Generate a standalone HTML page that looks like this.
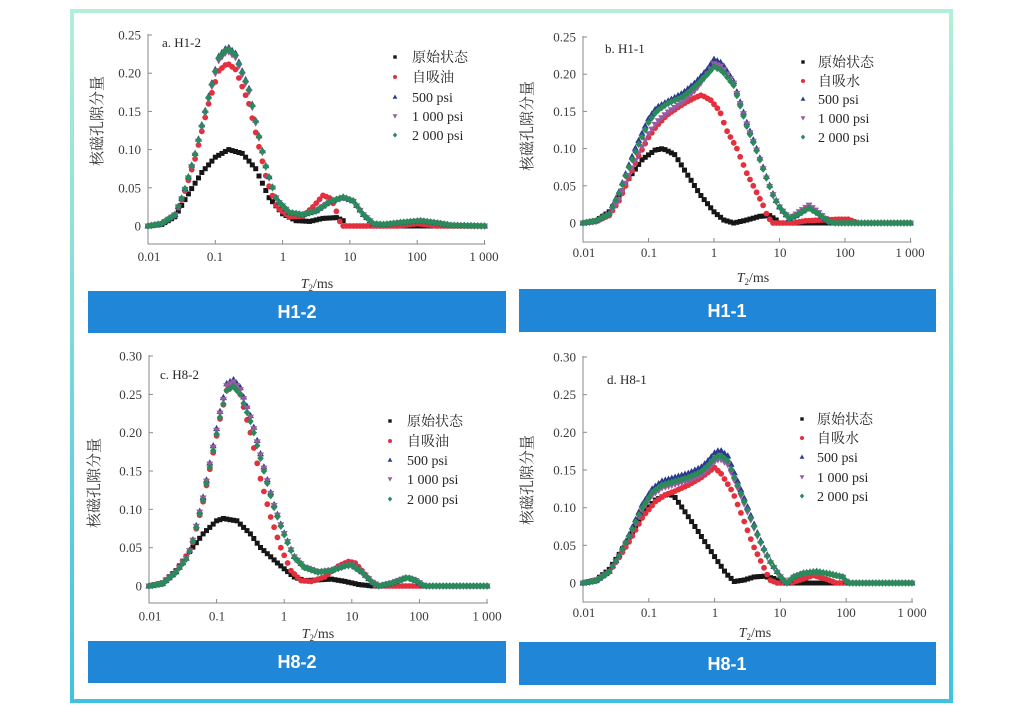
<!DOCTYPE html>
<html><head><meta charset="utf-8"><style>
html,body{margin:0;padding:0;background:#fff;}
svg{display:block;}
.tk{font-family:"Liberation Serif","Noto Serif CJK SC",serif;font-size:13px;fill:#3a3a3a;}
.yl{text-anchor:end;}
.xl{text-anchor:middle;}
.lg{font-family:"Liberation Serif","Noto Serif CJK SC",serif;font-size:14px;fill:#262626;}
.yt{font-family:"Liberation Serif","Noto Serif CJK SC",serif;font-size:15px;fill:#333;text-anchor:middle;dominant-baseline:central;}
.ti{font-family:"Liberation Serif",serif;font-size:13px;fill:#262626;}
.bar{font-family:"Liberation Sans",sans-serif;font-size:18px;font-weight:bold;fill:#fff;text-anchor:middle;}
.ax{font-family:"Liberation Serif",serif;font-size:14px;fill:#333;text-anchor:middle;}
</style></head><body>
<svg id="s" width="1024" height="713" viewBox="0 0 1024 713" xmlns="http://www.w3.org/2000/svg">
<defs><linearGradient id="fg" x1="0" y1="0" x2="0" y2="1"><stop offset="0" stop-color="#b2efd6"/><stop offset="1" stop-color="#3fc3e0"/></linearGradient></defs>
<rect width="1024" height="713" fill="#fff"/>
<rect x="72" y="11" width="879" height="690" fill="none" stroke="url(#fg)" stroke-width="4"/>
<g id="axes" stroke="#8a8a8a" stroke-width="1" fill="none"></g>

<!-- Panel a -->
<g class="tk yl">
<text x="141" y="230.5">0</text><text x="141" y="192.3">0.05</text><text x="141" y="154.1">0.10</text><text x="141" y="115.9">0.15</text><text x="141" y="77.7">0.20</text><text x="141" y="39.5">0.25</text>
</g>
<g class="tk xl">
<text x="149" y="261">0.01</text><text x="215" y="261">0.1</text><text x="283" y="261">1</text><text x="350" y="261">10</text><text x="417" y="261">100</text><text x="484" y="261">1 000</text>
</g>
<text class="ax" x="317" y="288"><tspan font-style="italic">T</tspan><tspan font-size="9" dy="3">2</tspan><tspan dy="-3">/ms</tspan></text>
<text class="yt" transform="translate(98,121) rotate(-90)">核磁孔隙分量</text>
<text class="ti" x="162" y="47">a. H1-2</text>
<g class="lg">
<text x="412" y="62">原始状态</text><text x="412" y="82">自吸油</text><text x="412" y="102">500 psi</text><text x="412" y="121">1 000 psi</text><text x="412" y="140">2 000 psi</text>
</g>

<!-- Panel b -->
<g class="tk yl">
<text x="576" y="227.5">0</text><text x="576" y="190.3">0.05</text><text x="576" y="153.1">0.10</text><text x="576" y="115.9">0.15</text><text x="576" y="78.7">0.20</text><text x="576" y="41.5">0.25</text>
</g>
<g class="tk xl">
<text x="584" y="257">0.01</text><text x="649" y="257">0.1</text><text x="714" y="257">1</text><text x="780" y="257">10</text><text x="845" y="257">100</text><text x="910" y="257">1 000</text>
</g>
<text class="ax" x="753" y="282"><tspan font-style="italic">T</tspan><tspan font-size="9" dy="3">2</tspan><tspan dy="-3">/ms</tspan></text>
<text class="yt" transform="translate(528,126) rotate(-90)">核磁孔隙分量</text>
<text class="ti" x="605" y="53">b. H1-1</text>
<g class="lg">
<text x="818" y="67">原始状态</text><text x="818" y="86">自吸水</text><text x="818" y="104">500 psi</text><text x="818" y="123">1 000 psi</text><text x="818" y="142">2 000 psi</text>
</g>

<!-- Panel c -->
<g class="tk yl">
<text x="142" y="590.5">0</text><text x="142" y="552.2">0.05</text><text x="142" y="513.8">0.10</text><text x="142" y="475.5">0.15</text><text x="142" y="437.2">0.20</text><text x="142" y="398.8">0.25</text><text x="142" y="360.5">0.30</text>
</g>
<g class="tk xl">
<text x="150" y="620.5">0.01</text><text x="217" y="620.5">0.1</text><text x="284" y="620.5">1</text><text x="352" y="620.5">10</text><text x="419" y="620.5">100</text><text x="487" y="620.5">1 000</text>
</g>
<text class="ax" x="318" y="638"><tspan font-style="italic">T</tspan><tspan font-size="9" dy="3">2</tspan><tspan dy="-3">/ms</tspan></text>
<text class="yt" transform="translate(95,483) rotate(-90)">核磁孔隙分量</text>
<text class="ti" x="160" y="379">c. H8-2</text>
<g class="lg">
<text x="407" y="426">原始状态</text><text x="407" y="446">自吸油</text><text x="407" y="465">500 psi</text><text x="407" y="484">1 000 psi</text><text x="407" y="504">2 000 psi</text>
</g>

<!-- Panel d -->
<g class="tk yl">
<text x="576" y="587.5">0</text><text x="576" y="549.8">0.05</text><text x="576" y="512.2">0.10</text><text x="576" y="474.5">0.15</text><text x="576" y="436.8">0.20</text><text x="576" y="399.2">0.25</text><text x="576" y="361.5">0.30</text>
</g>
<g class="tk xl">
<text x="584" y="617">0.01</text><text x="649" y="617">0.1</text><text x="715" y="617">1</text><text x="780" y="617">10</text><text x="846" y="617">100</text><text x="912" y="617">1 000</text>
</g>
<text class="ax" x="755" y="637"><tspan font-style="italic">T</tspan><tspan font-size="9" dy="3">2</tspan><tspan dy="-3">/ms</tspan></text>
<text class="yt" transform="translate(528,480) rotate(-90)">核磁孔隙分量</text>
<text class="ti" x="607" y="384">d. H8-1</text>
<g class="lg">
<text x="817" y="424">原始状态</text><text x="817" y="443">自吸水</text><text x="817" y="462">500 psi</text><text x="817" y="482">1 000 psi</text><text x="817" y="501">2 000 psi</text>
</g>

<g id="data"></g>

<!-- Blue bars -->
<rect x="88" y="291" width="418" height="42" fill="#1f86d8"/>
<text class="bar" x="297" y="318">H1-2</text>
<rect x="519" y="289" width="417" height="43" fill="#1f86d8"/>
<text class="bar" x="727" y="317">H1-1</text>
<rect x="88" y="641" width="418" height="42" fill="#1f86d8"/>
<text class="bar" x="297" y="668">H8-2</text>
<rect x="519" y="642" width="417" height="43" fill="#1f86d8"/>
<text class="bar" x="727" y="670">H8-1</text>
</svg>
<script>
(function(){
var C={K:'#161616',R:'#e4303c',B:'#2b3a8e',P:'#9b5ba3',G:'#2a8a5a'};
function f(n){return Math.round(n*10)/10;}
function mk(t,x,y,s){
  s=s||1;var c=C[t];
  if(t==='K'){var h=2*s;return '<rect x="'+f(x-h)+'" y="'+f(y-h)+'" width="'+f(2*h)+'" height="'+f(2*h)+'" fill="'+c+'"/>';}
  if(t==='R'){return '<circle cx="'+f(x)+'" cy="'+f(y)+'" r="'+f(2.3*s)+'" fill="'+c+'"/>';}
  if(t==='B'){return '<path d="M'+f(x)+','+f(y-3*s)+'L'+f(x+2.8*s)+','+f(y+2*s)+'L'+f(x-2.8*s)+','+f(y+2*s)+'Z" fill="'+c+'"/>';}
  if(t==='P'){return '<path d="M'+f(x)+','+f(y+3*s)+'L'+f(x+2.8*s)+','+f(y-2*s)+'L'+f(x-2.8*s)+','+f(y-2*s)+'Z" fill="'+c+'"/>';}
  return '<path d="M'+f(x)+','+f(y-3*s)+'L'+f(x+2.6*s)+','+f(y)+'L'+f(x)+','+f(y+3*s)+'L'+f(x-2.6*s)+','+f(y)+'Z" fill="'+c+'"/>';
}
function interp(p,u){for(var i=1;i<p.length;i++){if(u<=p[i][0]+1e-9){var a=p[i-1],b=p[i];return a[1]+(b[1]-a[1])*(u-a[0])/(b[0]-a[0]);}}return p[p.length-1][1];}

var aK=[[-2,0],[-1.8,0.002],[-1.6,0.012],[-1.4,0.042],[-1.2,0.07],[-1.0,0.09],[-0.8,0.10],[-0.6,0.095],[-0.4,0.075],[-0.2,0.037],[0,0.016],[0.2,0.007],[0.4,0.006],[0.6,0.01],[0.8,0.011],[0.9,0.007],[0.95,0],[3,0]];
var aR=[[-2,0],[-1.8,0.003],[-1.6,0.014],[-1.47,0.04],[-1.3,0.088],[-1.1,0.16],[-0.95,0.203],[-0.82,0.213],[-0.7,0.205],[-0.5,0.16],[-0.38,0.115],[-0.24,0.062],[-0.09,0.025],[0.1,0.012],[0.3,0.013],[0.45,0.025],[0.6,0.04],[0.72,0.036],[0.82,0.015],[0.87,0],[1.7,0],[2.0,0.003],[2.3,0],[3,0]];
var aB=[[-2,0],[-1.8,0.003],[-1.6,0.015],[-1.47,0.043],[-1.3,0.095],[-1.1,0.17],[-0.95,0.222],[-0.82,0.235],[-0.7,0.226],[-0.5,0.18],[-0.38,0.13],[-0.24,0.075],[-0.09,0.035],[0.1,0.018],[0.3,0.015],[0.5,0.02],[0.7,0.032],[0.9,0.038],[1.05,0.033],[1.2,0.015],[1.35,0.003],[1.5,0.002],[1.8,0.005],[2.05,0.007],[2.3,0.004],[2.5,0.001],[3,0]];

var bK=[[-2,0],[-1.8,0.003],[-1.6,0.015],[-1.45,0.035],[-1.3,0.06],[-1.1,0.085],[-0.9,0.098],[-0.78,0.10],[-0.6,0.092],[-0.42,0.067],[-0.21,0.038],[0,0.015],[0.15,0.004],[0.3,0],[0.5,0.004],[0.7,0.009],[0.85,0.01],[0.95,0.004],[1.0,0],[3,0]];
var bR=[[-2,0],[-1.8,0.002],[-1.6,0.01],[-1.45,0.03],[-1.3,0.06],[-1.18,0.085],[-1.0,0.115],[-0.88,0.13],[-0.72,0.145],[-0.47,0.16],[-0.3,0.168],[-0.19,0.172],[-0.05,0.165],[0.09,0.15],[0.19,0.125],[0.35,0.10],[0.5,0.067],[0.6,0.05],[0.76,0.022],[0.82,0.008],[0.9,0],[1.2,0],[1.4,0.003],[1.9,0.005],[2.05,0.005],[2.2,0],[3,0]];
var bG=[[-2,0],[-1.8,0.003],[-1.6,0.012],[-1.45,0.04],[-1.3,0.075],[-1.18,0.10],[-1.0,0.135],[-0.88,0.15],[-0.72,0.16],[-0.47,0.17],[-0.27,0.185],[-0.1,0.2],[0,0.21],[0.12,0.205],[0.3,0.185],[0.5,0.13],[0.65,0.097],[0.81,0.058],[0.91,0.035],[1.01,0.02],[1.15,0.006],[1.25,0.01],[1.45,0.02],[1.6,0.012],[1.75,0.002],[1.85,0],[3,0]];
var bB=[[-2,0],[-1.8,0.003],[-1.6,0.014],[-1.45,0.042],[-1.3,0.078],[-1.18,0.105],[-1.0,0.14],[-0.88,0.155],[-0.72,0.163],[-0.47,0.175],[-0.27,0.19],[-0.1,0.207],[0,0.22],[0.12,0.215],[0.3,0.19],[0.5,0.135],[0.65,0.1],[0.81,0.06],[0.91,0.037],[1.01,0.02],[1.15,0.006],[1.25,0.01],[1.45,0.022],[1.6,0.013],[1.75,0.002],[1.85,0],[3,0]];
var bP=[[-2,0],[-1.8,0.002],[-1.6,0.011],[-1.45,0.032],[-1.3,0.064],[-1.18,0.088],[-1.0,0.12],[-0.88,0.135],[-0.72,0.148],[-0.47,0.163],[-0.27,0.18],[-0.1,0.2],[0,0.214],[0.12,0.21],[0.3,0.188],[0.5,0.133],[0.65,0.098],[0.81,0.058],[0.91,0.036],[1.01,0.02],[1.15,0.006],[1.25,0.012],[1.45,0.024],[1.6,0.014],[1.75,0.002],[1.85,0],[3,0]];

var cK=[[-2,0],[-1.8,0.004],[-1.6,0.02],[-1.4,0.045],[-1.2,0.068],[-1.0,0.085],[-0.9,0.088],[-0.7,0.085],[-0.5,0.068],[-0.36,0.051],[-0.1,0.03],[0.14,0.012],[0.3,0.007],[0.5,0.008],[0.7,0.009],[0.9,0.006],[1.1,0.002],[1.3,0],[3,0]];
var cR=[[-2,0],[-1.8,0.003],[-1.6,0.018],[-1.37,0.05],[-1.2,0.11],[-1.07,0.165],[-0.95,0.218],[-0.85,0.255],[-0.75,0.262],[-0.65,0.25],[-0.5,0.2],[-0.35,0.14],[-0.2,0.09],[-0.05,0.05],[0.1,0.02],[0.25,0.007],[0.4,0.006],[0.6,0.012],[0.8,0.026],[0.95,0.032],[1.05,0.03],[1.2,0.015],[1.35,0],[3,0]];
var cG=[[-2,0],[-1.8,0.003],[-1.6,0.018],[-1.45,0.035],[-1.37,0.051],[-1.2,0.112],[-1.07,0.168],[-0.95,0.22],[-0.85,0.255],[-0.75,0.26],[-0.65,0.25],[-0.48,0.21],[-0.3,0.15],[-0.16,0.105],[-0.03,0.073],[0.14,0.038],[0.3,0.024],[0.5,0.018],[0.7,0.02],[0.9,0.026],[1.0,0.027],[1.15,0.018],[1.3,0.005],[1.4,0],[1.6,0.004],[1.82,0.011],[1.95,0.007],[2.07,0],[3,0]];

var dK=[[-2,0],[-1.8,0.004],[-1.6,0.018],[-1.45,0.038],[-1.29,0.062],[-1.09,0.093],[-0.9,0.11],[-0.72,0.118],[-0.62,0.116],[-0.43,0.092],[-0.27,0.071],[-0.12,0.051],[0.03,0.031],[0.18,0.012],[0.3,0.002],[0.45,0.004],[0.6,0.008],[0.75,0.009],[0.9,0.006],[1.0,0.002],[1.1,0],[3,0]];
var dR=[[-2,0],[-1.8,0.003],[-1.6,0.015],[-1.45,0.034],[-1.29,0.056],[-1.09,0.088],[-0.9,0.108],[-0.75,0.117],[-0.6,0.122],[-0.4,0.13],[-0.2,0.14],[-0.05,0.15],[0,0.153],[0.1,0.145],[0.28,0.12],[0.44,0.084],[0.59,0.049],[0.74,0.022],[0.84,0.004],[0.95,0],[1.15,0],[1.3,0.004],[1.5,0.01],[1.7,0.005],[1.85,0],[3,0]];
var dG=[[-2,0],[-1.8,0.003],[-1.6,0.015],[-1.45,0.036],[-1.3,0.062],[-1.1,0.1],[-0.95,0.12],[-0.8,0.13],[-0.6,0.135],[-0.4,0.14],[-0.2,0.148],[-0.1,0.156],[0,0.166],[0.08,0.17],[0.2,0.162],[0.35,0.13],[0.51,0.095],[0.64,0.066],[0.74,0.046],[0.84,0.029],[0.94,0.016],[1.02,0.006],[1.1,0],[1.2,0.008],[1.35,0.013],[1.55,0.015],[1.75,0.012],[1.95,0.008],[2.02,0],[3,0]];

var panels=[
 {ax:148,dec:67.3,y0:226,st:38.2,xa:244,top:35,nt:5,lx:395,ly:[57,77,97,116,135],
  s:[['K',aK,1],['R',aR,1],['B',aB,1],['P',aB,0.975],['G',aB,0.99]]},
 {ax:583,dec:65.5,y0:223,st:37.2,xa:242,top:37,nt:5,lx:803,ly:[62,81,99,118,137],
  s:[['K',bK,1],['R',bR,1],['B',bB,1],['P',bP,1],['G',bG,1]]},
 {ax:149,dec:67.6,y0:586,st:38.33,xa:603,top:356,nt:6,lx:390,ly:[421,441,460,479,499],
  s:[['K',cK,1],['R',cR,1],['B',cG,1.035],['P',cG,1.025],['G',cG,1]]},
 {ax:583,dec:65.8,y0:583,st:37.67,xa:602,top:357,nt:6,lx:802,ly:[419,438,457,477,496],
  s:[['K',dK,1],['R',dR,1],['B',dG,1.04],['P',dG,0.97],['G',dG,1]]}
];
var h='',ax='';
panels.forEach(function(p){
  var xe=p.ax+5*p.dec;
  ax+='<path d="M'+p.ax+','+(p.top-1)+'V'+p.xa+'H'+f(xe+1)+'"/>';
  for(var i=0;i<=p.nt;i++){var y=f(p.y0-i*p.st);ax+='<path d="M'+p.ax+','+y+'h4"/>';}
  for(var j=0;j<=5;j++){var x=f(p.ax+j*p.dec);ax+='<path d="M'+x+','+p.xa+'v-4"/>';}
  p.s.forEach(function(s){
    for(var k=0;k<=100;k++){
      var u=-2+k*0.05;var v=interp(s[1],u)*s[2];
      var x=p.ax+(u+2)*p.dec,y=p.y0-v/0.05*p.st;
      h+=mk(s[0],x,y,1.25);
    }
  });
  ['K','R','B','P','G'].forEach(function(t,i){h+=mk(t,p.lx,p.ly[i],0.85);});
});
document.getElementById('axes').innerHTML=ax;
document.getElementById('data').innerHTML=h;
})();
</script>
</body></html>
